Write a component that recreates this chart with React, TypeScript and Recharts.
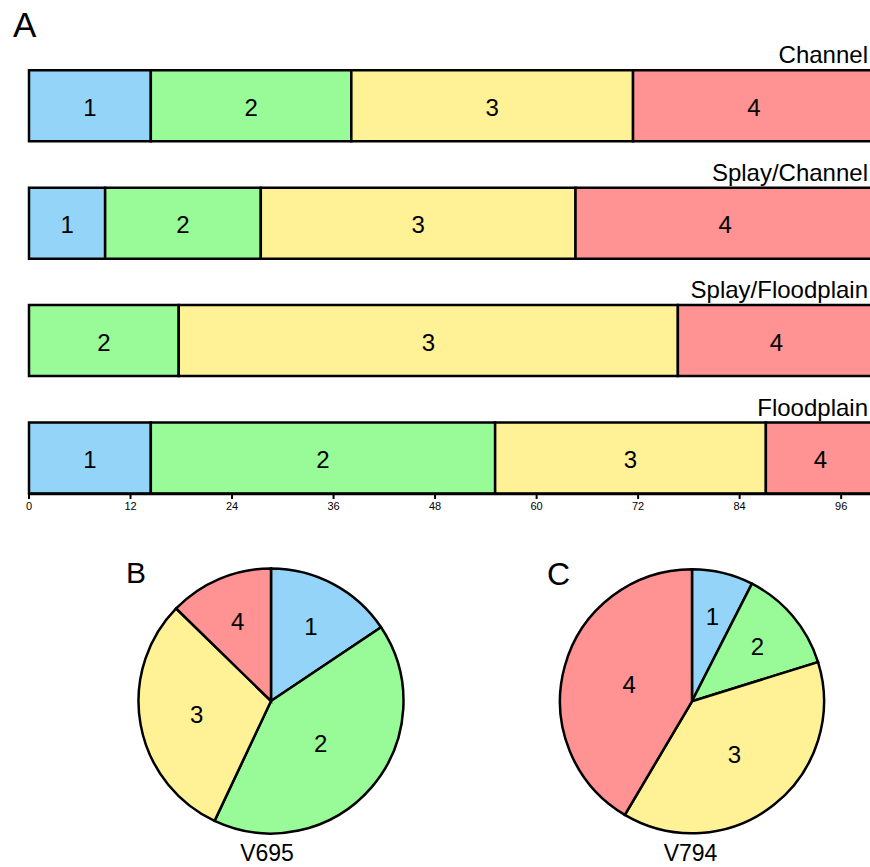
import { BarChart, Bar, XAxis, YAxis, LabelList, PieChart, Pie, Cell } from "recharts";

const FONT = "'Liberation Sans', Arial, sans-serif";

const facies = ["Channel", "Splay/Channel", "Splay/Floodplain", "Floodplain"];
const classes = ["1", "2", "3", "4"];
const COLORS = ["#93D4F8", "#98FB98", "#FFF296", "#FF9292"];

// percent of each class per facies
const class1 = [14.4, 9.0, 0, 14.4];
const class2 = [23.7, 18.4, 17.7, 40.7];
const class3 = [33.3, 37.2, 59.0, 32.0];
const class4 = [28.6, 35.4, 23.3, 12.9];
const xTicks = [0, 12, 24, 36, 48, 60, 72, 84, 96];

// pie shares (percent)
const v695 = [15.6, 41.4, 30.3, 12.7];
const v794 = [7.5, 12.7, 38.3, 41.5];

const series = [class1, class2, class3, class4];

const rows = facies.map((name, i) => {
  const row: any = { name };
  let total = 0;
  series.forEach((s, k) => {
    row["c" + (k + 1)] = s[i] > 0 ? s[i] : null;
    total += s[i];
  });
  row.spacer = total;
  return row;
});

const pieRows = (vals: number[]) => classes.map((c, i) => ({ name: c, value: vals[i] }));

const segLabel = (txt: string) => (p: any) => {
  const { x, y, width, height } = p;
  if (!width || width < 2) return null;
  return (
    <text x={x + width / 2} y={y + height / 2 + 10} textAnchor="middle" fontSize={24} fontFamily={FONT} fill="#000">
      {txt}
    </text>
  );
};

const faciesLabel = (p: any) => {
  const { x, y, width, height, value } = p;
  return (
    <text x={x + width - 7} y={y + height - 7} textAnchor="end" fontSize={24} fontFamily={FONT} fill="#000">
      {value}
    </text>
  );
};

// label at the sector's centroid
const pieLabel = (p: any) => {
  const { cx, cy, midAngle, outerRadius, percent, name } = p;
  const th = percent * Math.PI * 2;
  const d = (4 * outerRadius * Math.sin(th / 2)) / (3 * th);
  const a = (midAngle * Math.PI) / 180;
  const x = cx + d * Math.cos(a);
  const y = cy - d * Math.sin(a);
  return (
    <text x={x} y={y + 8.6} textAnchor="middle" fontSize={24} fontFamily={FONT} fill="#000">
      {name}
    </text>
  );
};

export default function App() {
  return (
    <div style={{ position: "absolute", left: 0, top: 0, width: 870, height: 867, overflow: "hidden", background: "#fff" }}>
      <BarChart
        width={876}
        height={520}
        layout="vertical"
        data={rows}
        margin={{ top: 24.2, right: 1, bottom: 6, left: 29 }}
        barGap={0}
      >
        <XAxis
          type="number"
          domain={[0, 100]}
          ticks={xTicks}
          interval={0}
          height={20}
          tickSize={5}
          tickMargin={3}
          tick={{ fontSize: 11, fill: "#000", fontFamily: FONT }}
          tickLine={{ stroke: "#000", strokeWidth: 2 }}
          axisLine={{ stroke: "#000", strokeWidth: 2.5 }}
        />
        <YAxis
          type="category"
          dataKey="name"
          width={0}
          tick={false}
          tickLine={false}
          axisLine={{ stroke: "#000", strokeWidth: 2.5, strokeDasharray: "0 46 2000" }}
        />
        <Bar dataKey="spacer" stackId="s" barSize={46} fill="none" isAnimationActive={false}>
          <LabelList dataKey="name" content={faciesLabel} />
        </Bar>
        {classes.map((c, k) => (
          <Bar
            key={c}
            dataKey={"c" + (k + 1)}
            stackId="a"
            barSize={71}
            fill={COLORS[k]}
            stroke="#000"
            strokeWidth={2.5}
            isAnimationActive={false}
          >
            <LabelList dataKey={"c" + (k + 1)} content={segLabel(c)} />
          </Bar>
        ))}
      </BarChart>

      <div style={{ position: "absolute", left: 0, top: 530 }}>
        <PieChart width={870} height={337} margin={{ top: 0, right: 0, bottom: 0, left: 0 }}>
          <Pie
            data={pieRows(v695)}
            dataKey="value"
            nameKey="name"
            cx={271}
            cy={171}
            outerRadius={132.5}
            startAngle={90}
            endAngle={-270}
            stroke="#000"
            strokeWidth={2.5}
            label={pieLabel}
            labelLine={false}
            isAnimationActive={false}
          >
            {classes.map((c, i) => (
              <Cell key={c} fill={COLORS[i]} />
            ))}
          </Pie>
          <Pie
            data={pieRows(v794)}
            dataKey="value"
            nameKey="name"
            cx={692}
            cy={171.3}
            outerRadius={132}
            startAngle={90}
            endAngle={-270}
            stroke="#000"
            strokeWidth={2.5}
            label={pieLabel}
            labelLine={false}
            isAnimationActive={false}
          >
            {classes.map((c, i) => (
              <Cell key={c} fill={COLORS[i]} />
            ))}
          </Pie>
        </PieChart>
      </div>

      <svg width={870} height={867} style={{ position: "absolute", left: 0, top: 0, pointerEvents: "none" }}>
        <text x={13} y={37} fontSize={35} fontFamily={FONT} fill="#000">A</text>
        <text x={126} y={583} fontSize={30} fontFamily={FONT} fill="#000">B</text>
        <text x={547} y={585} fontSize={32} fontFamily={FONT} fill="#000">C</text>
        <text x={267} y={861} textAnchor="middle" fontSize={23} fontFamily={FONT} fill="#000">V695</text>
        <text x={690.5} y={861} textAnchor="middle" fontSize={23} fontFamily={FONT} fill="#000">V794</text>
      </svg>
    </div>
  );
}
